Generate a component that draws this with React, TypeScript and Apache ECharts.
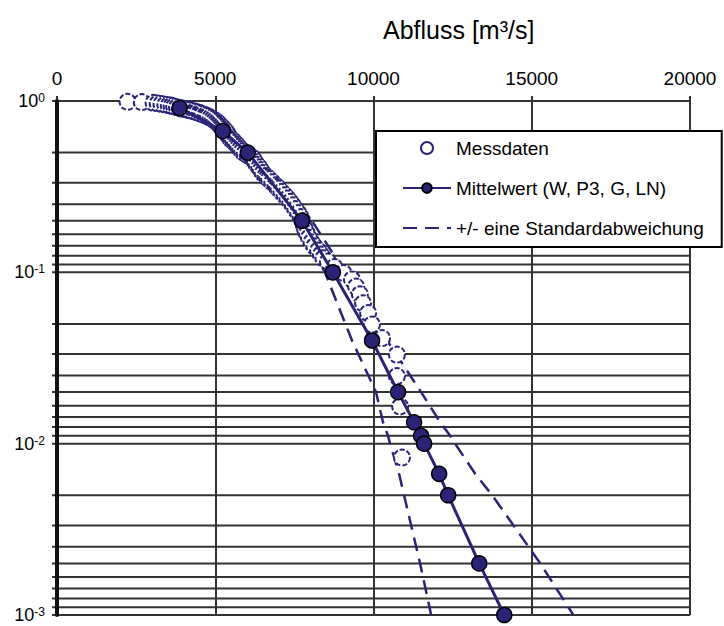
import React, { useEffect, useRef } from 'react';
import * as echarts from 'echarts';

const FONT = '"Liberation Sans", Arial, Helvetica, sans-serif';
const NAVY = '#2a2378';

// x axis ticks (Abfluss)
const xMin = 0;
const xMax = 20000;
const xInterval = 5000;

// horizontal grid lines: 1/n of each decade
const gridLineValues = [
  1, 0.5, 0.3333, 0.25, 0.2, 0.1667, 0.1429, 0.125, 0.1111,
  0.1, 0.05, 0.03333, 0.025, 0.02, 0.01667, 0.01429, 0.0125, 0.01111,
  0.01, 0.005, 0.003333, 0.0025, 0.002, 0.001667, 0.001429, 0.00125, 0.001111,
  0.001,
];

// Messdaten (x = Abfluss, p = Überschreitungswahrscheinlichkeit)
const messX = [
  2230, 2680, 3050, 3180, 3300, 3420, 3530, 3620, 3700, 3790, 3880, 3940, 3990, 4060, 4120, 4180, 4230, 4330,
  4380, 4420, 4510, 4560, 4600, 4690, 4730, 4770, 4850, 4920, 4980, 5040, 5090, 5130, 5175, 5220, 5260, 5310,
  5350, 5380, 5410, 5440, 5490, 5560, 5620, 5680, 5730, 5790, 5850, 5930, 6030, 6090, 6150, 6210,
  6260, 6310, 6390, 6440, 6500, 6580, 6640, 6700, 6800, 6900, 6950, 7000, 7090, 7190, 7280, 7370, 7450,
  7530, 7620, 7700, 7760, 7800, 7840, 7900, 7960, 8040, 8130, 8250, 8340, 8420, 8560, 8760,
  9050, 9320, 9450, 9570, 9670, 9830, 9950, 10270, 10740, 10740, 10840, 10900,
];
const messP = [
  0.99, 0.985, 0.975, 0.968, 0.96, 0.952, 0.945, 0.937, 0.93, 0.92, 0.91, 0.905, 0.9, 0.895, 0.89, 0.885, 0.88, 0.87,
  0.865, 0.86, 0.85, 0.844, 0.838, 0.826, 0.82, 0.814, 0.8, 0.787, 0.772, 0.757, 0.742, 0.728, 0.714, 0.7, 0.686, 0.672,
  0.658, 0.644, 0.63, 0.615, 0.6, 0.586, 0.57, 0.555, 0.54, 0.525, 0.51, 0.496, 0.483, 0.477, 0.47, 0.455,
  0.44, 0.425, 0.41, 0.395, 0.38, 0.365, 0.358, 0.35, 0.336, 0.322, 0.315, 0.308, 0.295, 0.282, 0.27, 0.258, 0.246,
  0.234, 0.222, 0.21, 0.199, 0.188, 0.178, 0.168, 0.159, 0.15, 0.142, 0.134, 0.127, 0.121, 0.1157, 0.1074,
  0.0992, 0.0909, 0.0826, 0.0744, 0.0661, 0.0579, 0.0496, 0.0413, 0.0331, 0.0248, 0.0165, 0.0083,
];

// Mittelwert und +/- eine Standardabweichung
const fitP = [0.909, 0.667, 0.5, 0.2, 0.1, 0.04, 0.02, 0.01333, 0.01111, 0.01, 0.00667, 0.005, 0.002, 0.001];
const meanX = [3877, 5238, 6029, 7738, 8719, 9954, 10776, 11283, 11504, 11599, 12074, 12359, 13340, 14131];
const lowerX = [3814, 5143, 5934, 7580, 8466, 9321, 10080, 10301, 10459, 10523, 10808, 10966, 11472, 11821];
const upperX = [3940, 5333, 6156, 8055, 9100, 10428, 11504, 12106, 12422, 12580, 13213, 13751, 15270, 16314];

const S_MESS = 'Messdaten';
const S_MEAN = 'Mittelwert (W, P3, G, LN)';
const S_STD = '+/- eine Standardabweichung';

export default function App() {
  const ref = useRef<HTMLDivElement>(null);
  useEffect(() => {
    if (!ref.current) return;
    const chart = echarts.init(ref.current, null, { renderer: 'svg' });
    const option: any = {
      animation: false,
      backgroundColor: '#fff',
      title: {
        text: 'Abfluss [m³/s]',
        left: 383,
        top: 17,
        padding: 0,
        textStyle: { fontSize: 25, fontWeight: 'normal', color: '#000', fontFamily: FONT },
      },
      legend: {
        data: [
          { name: S_MESS },
          { name: S_MEAN },
          { name: S_STD, itemStyle: { opacity: 0, color: 'rgba(0,0,0,0)', borderWidth: 0 } },
        ],
        orient: 'vertical',
        left: 376,
        top: 131,
        itemWidth: 48,
        itemHeight: 12,
        itemGap: 18,
        padding: [6, 18, 8, 26],
        borderColor: '#000',
        borderWidth: 2,
        backgroundColor: '#fff',
        selectedMode: false,
        textStyle: { fontSize: 19, color: '#000', fontFamily: FONT, lineHeight: 22 },
        z: 10,
      },
      grid: { left: 57, right: 34, top: 101, bottom: 11, containLabel: false },
      xAxis: {
        type: 'value',
        position: 'top',
        min: xMin,
        max: xMax,
        interval: xInterval,
        axisLine: { show: true, lineStyle: { color: '#333', width: 2 } },
        axisTick: { show: true, inside: false, length: 5, lineStyle: { color: '#333', width: 2 } },
        axisLabel: {
          fontSize: 19,
          color: '#000',
          fontFamily: FONT,
          margin: 13,
          formatter: (v: number) => String(v),
        },
        splitLine: { show: true, lineStyle: { color: '#333', width: 2 } },
      },
      yAxis: {
        type: 'log',
        logBase: 10,
        min: 0.001,
        max: 1,
        z: 3,
        axisLine: { show: true, lineStyle: { color: '#111', width: 4 } },
        axisTick: { show: false },
        splitLine: { show: false },
        axisLabel: {
          margin: 12,
          formatter: (v: number) => `{a|10}{b|${Math.round(Math.log10(v))}}`,
          rich: {
            a: { fontSize: 18, color: '#000', fontFamily: FONT },
            b: { fontSize: 12, color: '#000', fontFamily: FONT, verticalAlign: 'top' },
          },
        },
      },
      series: [
        {
          type: 'custom',
          name: 'grid',
          silent: true,
          clip: false,
          z: 1,
          encode: { x: 0, y: 1 },
          data: gridLineValues.map((v) => [xMin, v]),
          renderItem: (params: any, api: any) => {
            const v = api.value(1);
            const p0 = api.coord([xMin, v]);
            const p1 = api.coord([xMax, v]);
            return {
              type: 'line',
              shape: { x1: p0[0] - 5, y1: p0[1], x2: p1[0], y2: p1[1] },
              style: { stroke: '#333', lineWidth: 2 },
            };
          },
        },
        {
          type: 'line',
          name: S_STD,
          data: lowerX.map((x, i) => [x, fitP[i]]),
          showSymbol: false,
          symbol: 'none',
          z: 3,
          lineStyle: { color: NAVY, width: 2.5, type: [14, 8] },
          itemStyle: { color: NAVY },
        },
        {
          type: 'line',
          name: S_STD,
          data: upperX.map((x, i) => [x, fitP[i]]),
          showSymbol: false,
          symbol: 'none',
          z: 3,
          lineStyle: { color: NAVY, width: 2.5, type: [14, 8] },
          itemStyle: { color: NAVY },
        },
        {
          type: 'scatter',
          name: S_MESS,
          data: messX.map((x, i) => [x, messP[i]]),
          symbol: 'circle',
          symbolSize: 16,
          z: 4,
          itemStyle: { color: '#fff', borderColor: NAVY, borderWidth: 2, borderType: [5, 2], opacity: 1 },
        },
        {
          type: 'line',
          name: S_MEAN,
          data: meanX.map((x, i) => [x, fitP[i]]),
          symbol: 'circle',
          symbolSize: 15,
          z: 5,
          lineStyle: { color: NAVY, width: 3 },
          itemStyle: { color: NAVY, borderColor: '#000', borderWidth: 1.5 },
        },
      ],
    };
    chart.setOption(option);
    return () => chart.dispose();
  }, []);
  return (
    <div
      ref={ref}
      style={{ position: 'absolute', left: 0, top: 0, width: 724, height: 626 }}
    />
  );
}
